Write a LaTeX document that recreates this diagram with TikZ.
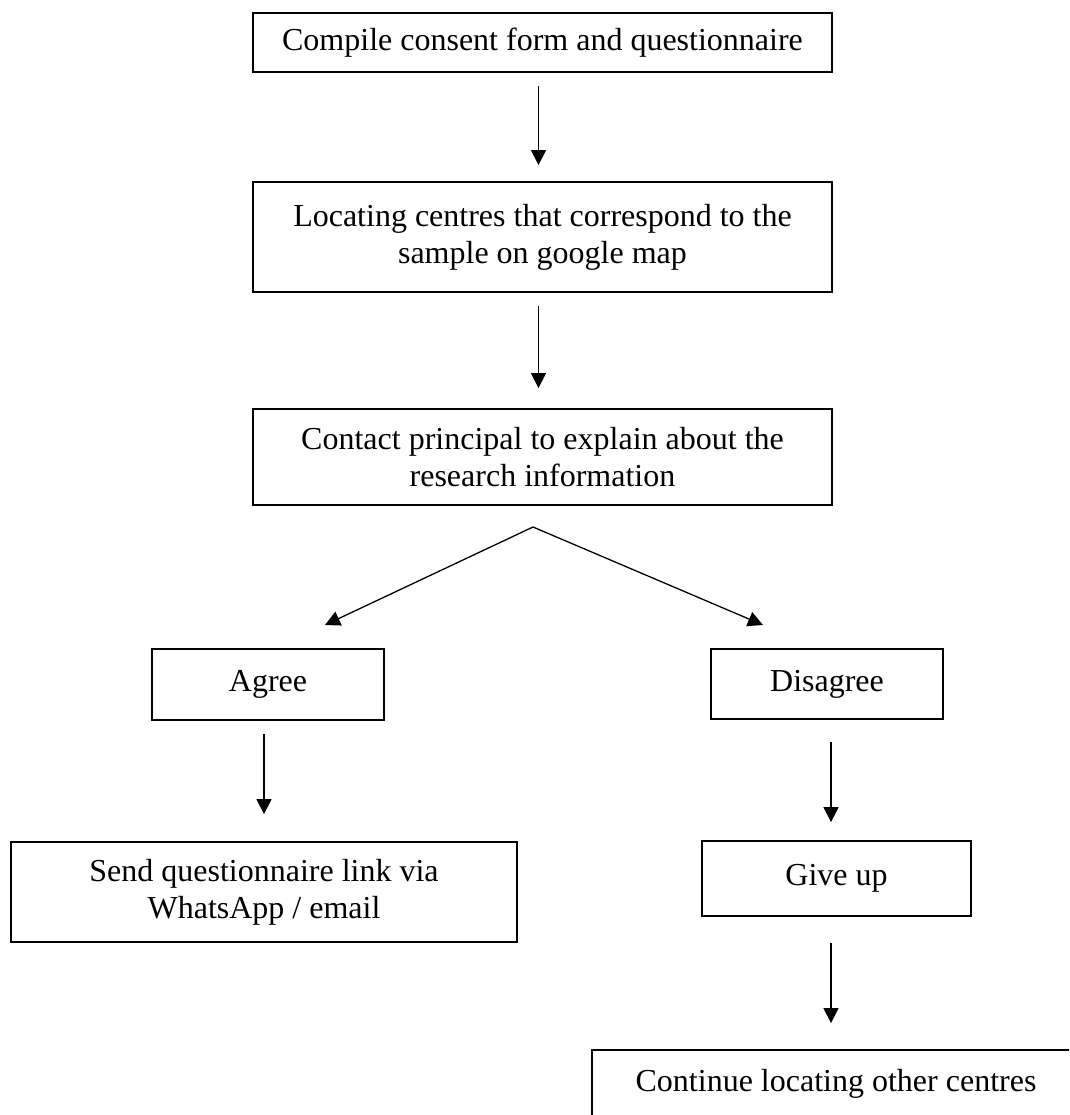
\documentclass[tikz,border=0pt]{standalone}
\usepackage{fontspec}
\setmainfont{Liberation Serif}
\usetikzlibrary{arrows.meta}
\begin{document}
\begin{tikzpicture}[x=1pt,y=-1pt,
  box/.style={draw=black, line width=1.8pt, rectangle, inner sep=0pt, align=center,
              font=\fontsize{32}{37}\selectfont},
  arr/.style={line width=1.3pt, -{Triangle[width=15pt,length=15pt]}}]
\useasboundingbox (0,0) rectangle (1069,1115);
\fill[white] (0,0) rectangle (1069,1115);
\clip (0,0) rectangle (1069,1115);

\node[box, minimum width=579pt, minimum height=59pt] (b1) at (542.5,42.5)
  {Compile consent form and questionnaire};
\node[box, minimum width=579pt, minimum height=110pt] (b2) at (542.5,237)
  {Locating centres that correspond to the\\sample on google map};
\node[box, minimum width=579pt, minimum height=96pt] (b3) at (542.5,457)
  {Contact principal to explain about the\\research information};

\node[box, minimum width=232pt, minimum height=71pt] (agree) at (268,684.5) {Agree};
\node[box, minimum width=232pt, minimum height=70pt] (dis) at (827,684) {Disagree};
\node[box, minimum width=506pt, minimum height=100pt] (send) at (264,892)
  {Send questionnaire link via\\WhatsApp / email};
\node[box, minimum width=269pt, minimum height=75pt] (give) at (836.5,878.5) {Give up};
\node[box, minimum width=488pt, minimum height=68pt] (cont) at (836,1084)
  {Continue locating other centres};

\coordinate (apex) at (533,527);
\coordinate (lt) at (325,625);
\coordinate (rt) at (763,625);

\draw[arr, shorten <=13pt, shorten >=16pt] ([xshift=-4pt]b1.south) -- ([xshift=-4pt]b2.north);
\draw[arr, shorten <=13pt, shorten >=20pt] ([xshift=-4pt]b2.south) -- ([xshift=-4pt]b3.north);
\draw[arr] (apex) -- (lt);
\draw[arr] (apex) -- (rt);
\draw[arr, shorten <=13pt, shorten >=27pt] ([xshift=-4pt]agree.south) -- (send.north);
\draw[arr, shorten <=22pt, shorten >=18pt] ([xshift=4pt]dis.south) -- ([xshift=-5.5pt]give.north);
\draw[arr, shorten <=26pt, shorten >=26pt] ([xshift=-5.5pt]give.south) -- ([xshift=-5pt]cont.north);
\end{tikzpicture}
\end{document}
